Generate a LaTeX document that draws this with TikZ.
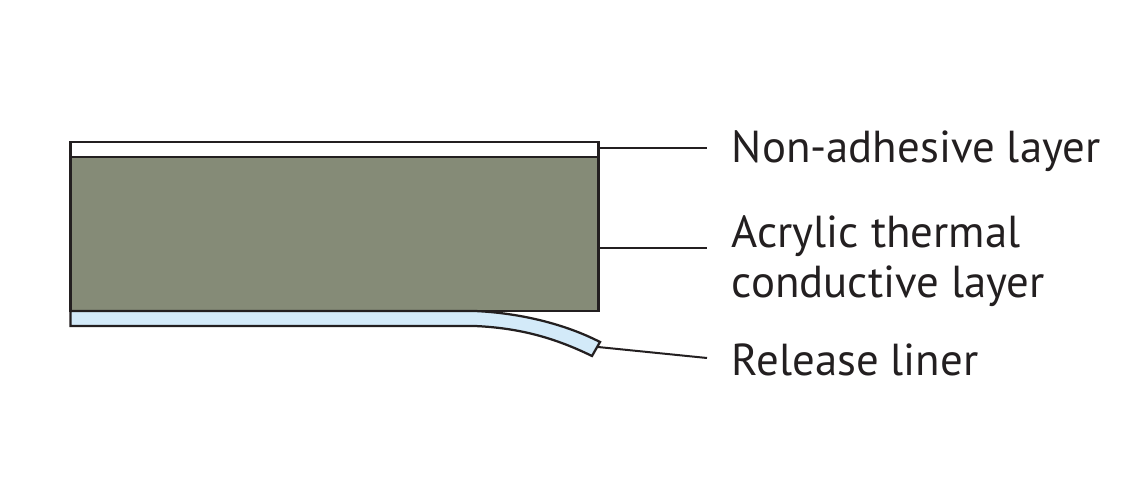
\documentclass[tikz,border=0pt]{standalone}
\usepackage{fontspec}
\setmainfont{PT Sans}
\definecolor{layergreen}{HTML}{858B77}
\definecolor{linerblue}{HTML}{D3EAF9}
\definecolor{inkline}{HTML}{231F20}
\tikzset{
    layerbox/.style={rectangle, draw=inkline, line width=0.045cm, minimum width=10.56cm, inner sep=0pt},
    leader/.style={draw=inkline, line width=0.04cm},
    tag/.style={inner sep=0pt, anchor=base west, text=inkline, font=\fontsize{25.5}{28.35}\selectfont, align=left}
}
\begin{document}
\begin{tikzpicture}[x=0.02cm, y=0.02cm]
    \useasboundingbox (0,0) rectangle (1134,-497);

    \node[layerbox, minimum height=0.3cm] (nonadhesive) at (334.5,-149.5) {};
    \node[layerbox, minimum height=3.08cm, fill=layergreen] (acrylic) at (334.5,-234) {};

    % liner bends away at the right hand end
    \draw[fill=linerblue, draw=inkline, line width=0.045cm, line join=miter]
        (70.5,-311) -- (475,-311) .. controls (520,-313) and (565,-324) .. (600,-342)
        -- (592,-356) .. controls (555,-338) and (520,-328) .. (475,-326) -- (70.5,-326) -- cycle;

    \node[tag] (nonadhesive_t) at (731.5,-162) {Non-adhesive layer};
    \node[tag] (acrylic_t) at (731.5,-297) {Acrylic thermal\\conductive layer};
    \node[tag] (liner_t) at (731.5,-375) {Release liner};

    \coordinate (a_start) at (599,-147.5);
    \coordinate (a_end) at (707,-147.5);
    \coordinate (b_start) at (599,-247.5);
    \coordinate (b_end) at (707,-247.5);
    \coordinate (c_start) at (598,-347);
    \coordinate (c_end) at (707,-358);

    \draw[leader] (a_start) -- (a_end);
    \draw[leader] (b_start) -- (b_end);
    \draw[leader] (c_start) -- (c_end);
\end{tikzpicture}
\end{document}
